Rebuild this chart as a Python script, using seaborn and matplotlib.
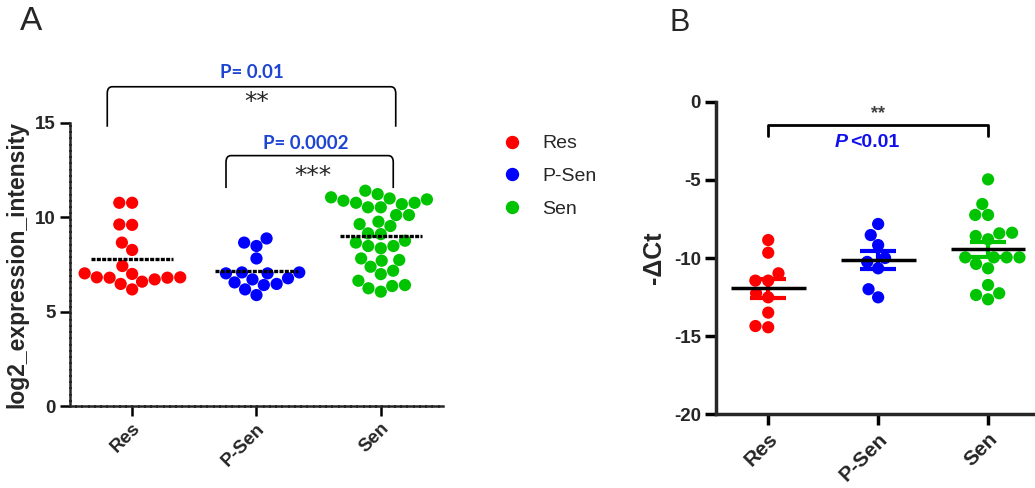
import numpy as np
import pandas as pd
import matplotlib
matplotlib.use("Agg")
import matplotlib.pyplot as plt
import seaborn as sns
from matplotlib.path import Path
from matplotlib.patches import PathPatch
from matplotlib.lines import Line2D

# ---------------- data ----------------
groups = ["Res", "P-Sen", "Sen"]
colors = ["#ff0000", "#0000ff", "#00c400"]

a_res = [10.77, 10.77, 9.62, 9.6, 8.66, 8.27, 7.42, 6.82, 6.59, 7.0, 6.8,
         6.8, 6.47, 6.82, 6.71, 7.03, 6.18]
a_psen = [8.66, 8.88, 8.48, 7.82, 7.08, 7.03, 7.03, 7.08, 6.55, 6.41, 6.71,
          6.77, 6.47, 6.18, 5.88]
a_sen = [11.41, 11.06, 11.23, 10.95, 10.88, 11.0, 10.77, 10.7, 10.53, 10.53,
         10.77, 10.12, 10.12, 9.64, 9.54, 9.77, 9.15, 9.11, 8.76, 8.48, 8.36,
         8.48, 8.66, 7.7, 7.82, 7.74, 7.17, 6.99, 7.38, 6.64, 6.36, 6.06,
         6.24, 6.41]

b_res = [-8.85, -9.66, -10.98, -11.45, -11.45, -12.26, -12.52, -13.5,
         -14.44, -14.36]
b_psen = [-7.82, -8.53, -9.17, -10.0, -10.25, -10.66, -12.0, -12.52]
b_sen = [-4.96, -6.54, -7.24, -7.24, -8.42, -8.8, -8.59, -8.38, -9.96, -9.96,
         -9.96, -9.96, -10.38, -10.66, -12.26, -12.65, -12.37, -11.73]

a_ticks = [0, 5, 10, 15]
b_ticks = [-20, -15, -10, -5, 0]

# ---------------- style ----------------
sns.set_theme(style="ticks")
plt.rcParams['font.family'] = ['Liberation Sans', 'DejaVu Sans']

fig = plt.figure(figsize=(10.35, 4.88), dpi=100)
axA = fig.add_axes([0.0676, 0.168, 0.3604, 0.580])
axB = fig.add_axes([0.692, 0.1516, 0.308, 0.6394])


def long_df(vals):
    return pd.DataFrame({
        "group": np.repeat(groups, [len(v) for v in vals]),
        "value": np.concatenate(vals),
    })


dfA = long_df([a_res, a_psen, a_sen])
dfB = long_df([b_res, b_psen, b_sen])

# ---------------- panel A ----------------
sns.swarmplot(data=dfA, x="group", y="value", hue="group", order=groups,
              hue_order=groups, palette=colors, size=8.8, linewidth=0,
              legend=False, ax=axA, zorder=3)
for i, vals in enumerate([a_res, a_psen, a_sen]):
    m = np.mean(vals)
    axA.hlines(m, i - 0.33, i + 0.33, color="black", lw=2.4,
               linestyles=(0, (1.2, 0.4)), zorder=5)

axA.set_xlim(-0.5, 2.5)
axA.set_ylim(0, 15)
axA.set_yticks(a_ticks)
axA.set_yticklabels([str(t) for t in a_ticks], fontsize=13.5, fontweight="bold")
axA.set_xticks(range(3))
axA.set_xticklabels(groups, rotation=45, ha="right", rotation_mode="anchor",
                    fontsize=13.5, fontweight="bold")
axA.set_xlabel("")
axA.set_ylabel("log2_expression_intensity", fontsize=16.5, fontweight="bold",
               labelpad=5)
for s in ["top", "right"]:
    axA.spines[s].set_visible(False)
for s in ["left", "bottom"]:
    axA.spines[s].set_linewidth(1.8)
    axA.spines[s].set_linestyle((0, (2, 0.5)))
axA.tick_params(axis="both", width=1.8, length=7, color="black", pad=3)


def bracket(ax, x1, x2, ytop, ybot, lw=1.2, rx=0.04, ry=0.35):
    verts = [(x1, ybot), (x1, ytop - ry), (x1, ytop), (x1 + rx, ytop),
             (x2 - rx, ytop), (x2, ytop), (x2, ytop - ry), (x2, ybot)]
    codes = [Path.MOVETO, Path.LINETO, Path.CURVE3, Path.CURVE3,
             Path.LINETO, Path.CURVE3, Path.CURVE3, Path.LINETO]
    ax.add_patch(PathPatch(Path(verts, codes), fill=False, lw=lw,
                           color="black", clip_on=False))


bracket(axA, -0.2, 2.12, 16.92, 14.8)
bracket(axA, 0.755, 2.1, 13.27, 11.55)
ptxt = dict(color="#1d45d2", fontweight="bold", fontsize=13.5,
            family=["Lato", "DejaVu Sans"], ha="center", va="center",
            clip_on=False)
axA.text(0.96, 17.65, "P= 0.01", **ptxt)
axA.text(1.395, 13.9, "P= 0.0002", **ptxt)
axA.text(1.0, 16.1, "**", fontsize=18, ha="center", va="center",
         family=["DejaVu Sans"], clip_on=False)
axA.text(1.45, 12.2, "***", fontsize=18, ha="center", va="center",
         family=["DejaVu Sans"], clip_on=False)

handles = [Line2D([], [], marker="o", ls="", color=c, markersize=8.6)
           for c in colors]
fig.legend(handles, groups, loc="upper left",
           bbox_to_anchor=(494 / 1035, 1 - 127 / 488), frameon=False,
           fontsize=14, handlelength=1.0, handletextpad=1.1,
           labelspacing=0.78, borderaxespad=0)

# ---------------- panel B ----------------
sns.swarmplot(data=dfB, x="group", y="value", hue="group", order=groups,
              hue_order=groups, palette=colors, size=8.8, linewidth=0,
              legend=False, ax=axB, zorder=3)
for i, vals in enumerate([b_res, b_psen, b_sen]):
    v = np.asarray(vals)
    m = v.mean()
    sem = v.std(ddof=1) / np.sqrt(len(v))
    axB.errorbar(i, m, yerr=sem, color=colors[i], lw=3, capsize=13,
                 capthick=3, zorder=4)
    axB.hlines(m, i - 0.34, i + 0.34, color="black", lw=2.5, zorder=6)

axB.set_xlim(-0.473, 2.427)
axB.set_ylim(-20, 0)
axB.set_yticks(b_ticks)
axB.set_yticklabels([str(t) for t in b_ticks], fontsize=13.5, fontweight="bold")
axB.set_xticks(range(3))
axB.set_xticklabels(groups, rotation=45, ha="right", rotation_mode="anchor",
                    fontsize=15, fontweight="bold")
axB.set_xlabel("")
axB.set_ylabel("-\u0394Ct", fontsize=18, fontweight="bold", labelpad=6)
for s in ["top", "right"]:
    axB.spines[s].set_visible(False)
for s in ["left", "bottom"]:
    axB.spines[s].set_linewidth(2.5)
axB.tick_params(axis="both", width=2.5, length=8, color="black", pad=3)

axB.plot([0, 0, 2, 2], [-2.2, -1.47, -1.47, -2.2], color="black", lw=2,
         clip_on=False)
axB.text(1.0, -0.75, "**", fontsize=13, ha="center", va="center",
         color="#404040", fontweight="bold", clip_on=False)
axB.text(0.72, -2.6, "P", fontsize=14, ha="right", va="center",
         color="#1010ee", fontweight="bold", fontstyle="italic")
axB.text(0.745, -2.6, "<0.01", fontsize=14, ha="left", va="center",
         color="#1010ee", fontweight="bold")

# ---------------- panel letters ----------------
fig.text(20 / 1035, 1 - 6 / 488, "A", fontsize=24, va="top", ha="left")
fig.text(670 / 1035, 1 - 8 / 488, "B", fontsize=22, va="top", ha="left")

fig.savefig("out.png", dpi=100)
